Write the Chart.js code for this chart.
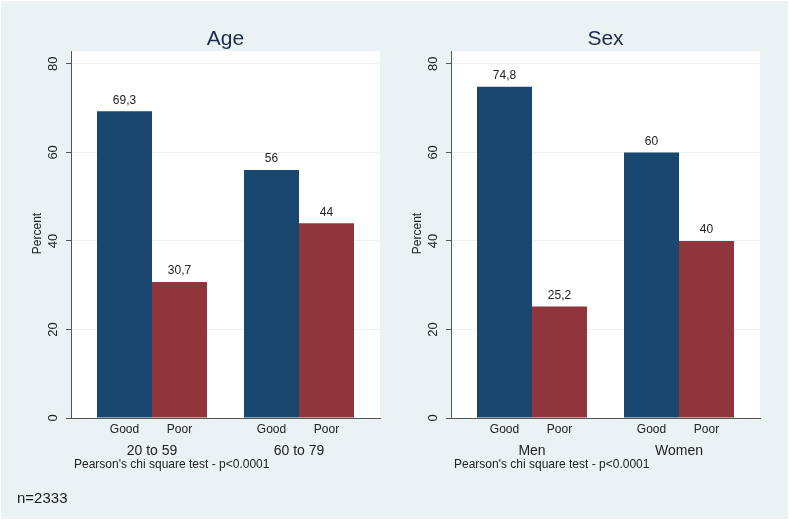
<!DOCTYPE html>
<html lang="en">
<head>
<meta charset="UTF-8" />
<title>Self-rated health by age and sex</title>
<script src="https://cdn.jsdelivr.net/npm/chart.js"></script>
<style>
  body { margin: 0; background: #fff; font-family: 'Liberation Sans', Arial, sans-serif; }
  #frame { position: absolute; left: 1px; top: 1px; width: 787px; height: 518px; background: #eaf2f3; }
  canvas { position: absolute; top: 0; }
  #ageChart { left: 0; }
  #sexChart { left: 395px; }
  #note { position: absolute; left: 17px; top: 490px; font-size: 15px; line-height: 15px; color: #1a1a1a; }
</style>
</head>
<body>
  <div id="frame"></div>
  <canvas id="ageChart" width="395" height="521"></canvas>
  <canvas id="sexChart" width="395" height="521"></canvas>
  <div id="note">n=2333</div>

  <script>
    // data
    const barLabels = ['Good', 'Poor'];
    const ageGroups = ['20 to 59', '60 to 79'];
    const ageGood = [69.3, 56];
    const agePoor = [30.7, 44];
    const sexGroups = ['Men', 'Women'];
    const sexGood = [74.8, 60];
    const sexPoor = [25.2, 40];
    const yTicks = [0, 20, 40, 60, 80];
    const testNote = "Pearson's chi square test - p<0.0001";

    const FONT = '"Liberation Sans", Arial, sans-serif';

    // white plot region + all the Stata-style text
    const panelText = {
      id: 'panelText',
      beforeDraw(chart) {
        const { ctx, chartArea: a } = chart;
        ctx.save();
        ctx.fillStyle = '#fff';
        ctx.fillRect(a.left, a.top, a.right - a.left, a.bottom - a.top);
        ctx.restore();
      },
      afterDraw(chart) {
        const { ctx, chartArea: a, scales: { x, y } } = chart;
        const o = chart.options.plugins.panelText;
        ctx.save();

        // title
        ctx.font = '21px ' + FONT;
        ctx.fillStyle = '#1c2b4a';
        ctx.textAlign = 'center';
        ctx.textBaseline = 'alphabetic';
        ctx.fillText(o.title, (a.left + a.right) / 2, 45);

        // rotated y tick labels
        ctx.fillStyle = '#222';
        ctx.textBaseline = 'middle';
        ctx.font = '13px ' + FONT;
        yTicks.forEach(v => {
          ctx.save();
          ctx.translate(a.left - 18, y.getPixelForValue(v));
          ctx.rotate(-Math.PI / 2);
          ctx.fillText(String(v), 0, 0);
          ctx.restore();
        });

        // axis title
        ctx.save();
        ctx.font = '12px ' + FONT;
        ctx.translate(a.left - 33, (a.top + a.bottom) / 2 - 1);
        ctx.rotate(-Math.PI / 2);
        ctx.fillText('Percent', 0, 0);
        ctx.restore();

        // value labels above bars, bar names below
        chart.data.datasets.forEach((ds, di) => {
          chart.getDatasetMeta(di).data.forEach((bar, i) => {
            ctx.font = '12px ' + FONT;
            ctx.fillText(String(ds.data[i].y).replace('.', ','), bar.x, bar.y - 11);
            ctx.fillText(ds.label, bar.x, a.bottom + 12);
          });
        });

        // group names
        ctx.font = '14px ' + FONT;
        o.groups.forEach((g, i) => ctx.fillText(g, x.getPixelForValue(i), a.bottom + 33));

        // test note
        ctx.font = '12px ' + FONT;
        ctx.textAlign = 'left';
        ctx.fillText(o.test, a.left + 3, a.bottom + 47);

        ctx.restore();
      }
    };

    function makePanel(id, title, groups, good, poor, pad) {
      return new Chart(document.getElementById(id), {
        type: 'bar',
        data: {
          datasets: [
            { label: barLabels[0], data: good.map((v, i) => ({ x: i, y: v })), backgroundColor: '#1a476f', categoryPercentage: 110 / 147, barPercentage: 1 },
            { label: barLabels[1], data: poor.map((v, i) => ({ x: i, y: v })), backgroundColor: '#90353b', categoryPercentage: 110 / 147, barPercentage: 1 }
          ]
        },
        options: {
          responsive: false,
          animation: false,
          layout: { padding: pad },
          plugins: {
            legend: { display: false },
            tooltip: { enabled: false },
            panelText: { title: title, groups: groups, test: testNote }
          },
          scales: {
            x: {
              type: 'linear', min: -0.551, max: 1.551, offset: false,
              afterBuildTicks: s => { s.ticks = groups.map((g, i) => ({ value: i })); },
              ticks: { display: false },
              grid: { display: false },
              border: { color: '#555', width: 1 },
              afterFit: s => { s.height = 103; }
            },
            y: {
              min: 0, max: 82.9,
              ticks: { display: false, stepSize: 20 },
              afterBuildTicks: s => { s.ticks = yTicks.map(v => ({ value: v })); },
              grid: {
                color: c => (c.tick && c.tick.value === 0) ? 'rgba(0,0,0,0)' : '#eaf2f3',
                tickColor: '#555', tickLength: 5, drawTicks: true
              },
              border: { color: '#555', width: 1 },
              afterFit: s => { s.width = 10; }
            }
          }
        },
        plugins: [panelText]
      });
    }

    makePanel('ageChart', 'Age', ageGroups, ageGood, agePoor, { left: 61, right: 15, top: 51, bottom: 0 });
    makePanel('sexChart', 'Sex', sexGroups, sexGood, sexPoor, { left: 46, right: 30, top: 51, bottom: 0 });
  </script>
</body>
</html>
